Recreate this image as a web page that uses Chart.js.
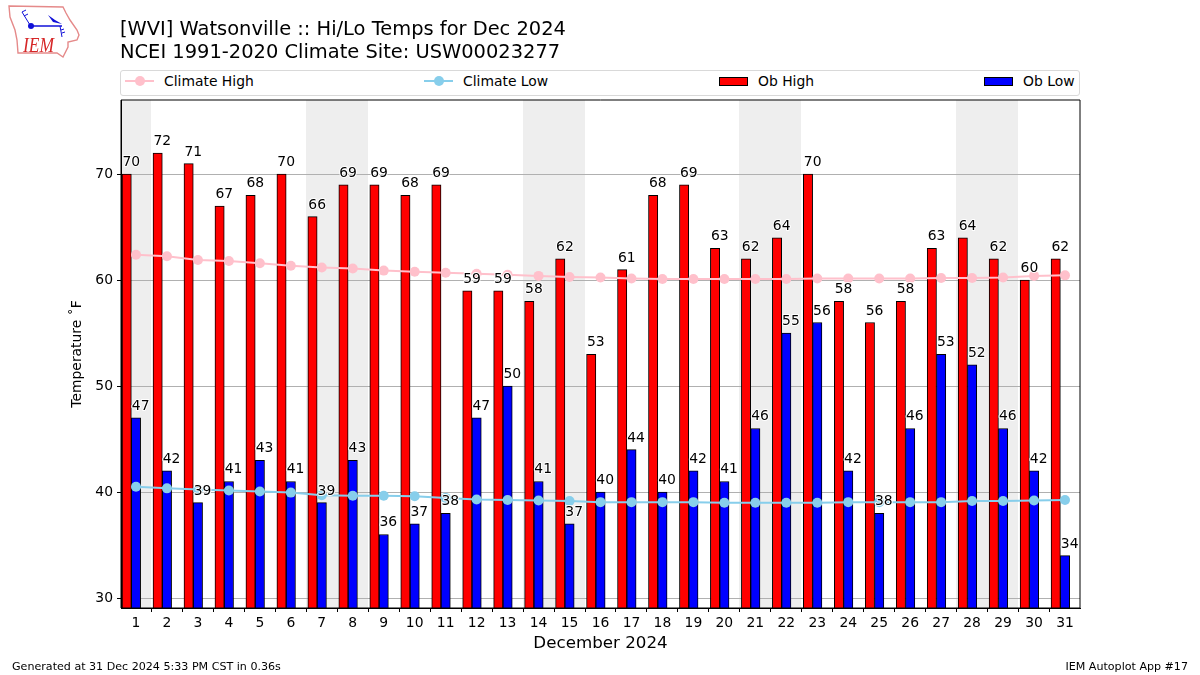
<!DOCTYPE html>
<html>
<head>
<meta charset="utf-8">
<title>Watsonville Hi/Lo Temps</title>
<script src="https://cdn.jsdelivr.net/npm/chart.js@4"></script>
<style>
  html, body { margin: 0; padding: 0; background: #fff; }
  body { width: 1200px; height: 675px; position: relative; overflow: hidden; font-family: "DejaVu Sans", sans-serif; color: #000; }
  #chart-1 { position: absolute; left: 0; top: 0; }
  .txt { position: absolute; white-space: nowrap; }
  #title { left: 120px; top: 18px; font-size: 19.45px; line-height: 22.5px; }
  #legend { position: absolute; left: 120px; top: 70px; width: 958px; height: 24px; border: 1px solid #d9d9d9; border-radius: 3px; background: #fff; }
  .leg-label { position: absolute; top: 2px; font-size: 13.9px; line-height: 17px; white-space: nowrap; }
  .leg-line { position: absolute; top: 9px; width: 29px; height: 2px; }
  .leg-dot { position: absolute; top: 5px; width: 10px; height: 10px; border-radius: 50%; }
  .leg-box { position: absolute; top: 6px; width: 27px; height: 7px; border: 1px solid #000; }
  #logo { position: absolute; left: 0; top: 0; }
</style>
</head>
<body>
<canvas id="chart-1" width="1200" height="675" style="width:1200px;height:675px"></canvas>

<svg id="logo" width="90" height="65" viewBox="0 0 90 65">
  <path d="M9 6 L63 7 L66 13 L70 20 L77 30 L79 35 L77 40 L68 42 L68 47 L63 57 L57 53 L18 53 L17 40 L15 30 L10 17 Z" fill="none" stroke="#e58a8a" stroke-width="1.4"/>
  <path d="M31 26 L62 26" stroke="#1010d8" stroke-width="1.5"/>
  <circle cx="31" cy="26" r="3" fill="#1010d8"/>
  <path d="M48 15 L55 20 L62 24 L53 22 Z" fill="#1010d8"/>
  <path d="M22 12 L30 25 M22 12 L26 10 M24 16 L28 14" stroke="#1010d8" stroke-width="1" fill="none"/>
  <path d="M60 26 L62 37 M62 33 L65 32 M61 30 L64 29" stroke="#1010d8" stroke-width="1" fill="none"/>
  <text x="23" y="52" font-family="Liberation Serif, serif" font-style="italic" font-size="21" fill="#d62728" textLength="31" lengthAdjust="spacingAndGlyphs">IEM</text>
</svg>

<div class="txt" id="title">[WVI] Watsonville :: Hi/Lo Temps for Dec 2024<br>NCEI 1991-2020 Climate Site: USW00023277</div>
<div id="legend"></div>
<div class="txt" style="left:12px;top:660px;font-size:11.1px;line-height:13px">Generated at 31 Dec 2024 5:33 PM CST in 0.36s</div>
<div class="txt" style="right:12px;top:660px;font-size:11.1px;line-height:13px">IEM Autoplot App #17</div>

<script>
const days = [1, 2, 3, 4, 5, 6, 7, 8, 9, 10, 11, 12, 13, 14, 15, 16, 17, 18, 19, 20, 21, 22, 23, 24, 25, 26, 27, 28, 29, 30, 31];
const obHigh = [70, 72, 71, 67, 68, 70, 66, 69, 69, 68, 69, 59, 59, 58, 62, 53, 61, 68, 69, 63, 62, 64, 70, 58, 56, 58, 63, 64, 62, 60, 62];
const obLow = [47, 42, 39, 41, 43, 41, 39, 43, 36, 37, 38, 47, 50, 41, 37, 40, 44, 40, 42, 41, 46, 55, 56, 42, 38, 46, 53, 52, 46, 42, 34];
const climateHigh = [62.4, 62.25, 61.9, 61.8, 61.6, 61.35, 61.2, 61.1, 60.9, 60.8, 60.7, 60.6, 60.5, 60.4, 60.3, 60.25, 60.15, 60.1, 60.1, 60.1, 60.1, 60.1, 60.15, 60.15, 60.15, 60.15, 60.2, 60.2, 60.25, 60.4, 60.45];
const climateLow = [40.5, 40.35, 40.25, 40.15, 40.05, 39.95, 39.7, 39.65, 39.65, 39.6, 39.45, 39.3, 39.25, 39.2, 39.15, 39.05, 39.05, 39.05, 39.05, 39.0, 39.0, 39.0, 39.0, 39.05, 39.05, 39.05, 39.05, 39.15, 39.15, 39.2, 39.25];
const weekendDays = [1, 7, 8, 14, 15, 21, 22, 28, 29];
const yTicks = [30, 40, 50, 60, 70];

const fontFamily = '"DejaVu Sans", sans-serif';

// weekend bands go under the grid
const weekendBands = {
  id: "weekendBands",
  beforeDraw: function (chart) {
    const x = chart.scales.x, area = chart.chartArea, ctx = chart.ctx;
    ctx.save();
    ctx.fillStyle = "#eeeeee";
    weekendDays.forEach(function (d) {
      // whole pixels, so two neighbouring days leave no seam
      const left = Math.floor(Math.max(x.getPixelForValue(d - 0.5), area.left));
      const right = Math.floor(x.getPixelForValue(d + 0.5));
      ctx.fillRect(left, area.top, right - left, area.bottom - area.top);
    });
    ctx.restore();
  },
};

// value labels with a white halo, plus the frame round the axes
const barLabels = {
  id: "barLabels",
  afterDatasetsDraw: function (chart) {
    const x = chart.scales.x, y = chart.scales.y, area = chart.chartArea, ctx = chart.ctx;
    ctx.save();
    ctx.font = "13.9px " + fontFamily;
    ctx.textAlign = "center";
    ctx.textBaseline = "alphabetic";
    ctx.lineJoin = "round";
    function put(value, pos) {
      const px = x.getPixelForValue(pos);
      const py = y.getPixelForValue(value) - 8;
      ctx.strokeStyle = "#ffffff";
      ctx.lineWidth = 2;
      ctx.strokeText(String(value), px, py);
      ctx.fillStyle = "#000000";
      ctx.fillText(String(value), px, py);
    }
    days.forEach(function (d, i) {
      put(obHigh[i], d - 0.15);
      put(obLow[i], d + 0.15);
    });
    ctx.strokeStyle = "#000000";
    ctx.lineWidth = 1;
    ctx.strokeRect(area.left, area.top, area.right - area.left, area.bottom - area.top);
    ctx.restore();
  },
};

const ctx1 = document.getElementById("chart-1").getContext("2d");
const myChart = new Chart(ctx1, {
  type: "bar",
  data: {
    datasets: [
      {
        type: "line",
        label: "Climate High",
        data: days.map(function (d, i) { return { x: d, y: climateHigh[i] }; }),
        borderColor: "#ffc0cb",
        backgroundColor: "#ffc0cb",
        borderWidth: 2,
        pointRadius: 5,
        pointBorderWidth: 0,
        order: 1,
      },
      {
        type: "line",
        label: "Climate Low",
        data: days.map(function (d, i) { return { x: d, y: climateLow[i] }; }),
        borderColor: "#87ceeb",
        backgroundColor: "#87ceeb",
        borderWidth: 2,
        pointRadius: 5,
        pointBorderWidth: 0,
        order: 0,
      },
      {
        label: "Ob High",
        data: days.map(function (d, i) { return { x: d - 0.3, y: obHigh[i] }; }),
        backgroundColor: "#ff0000",
        borderColor: "#000000",
        borderWidth: 1,
        barThickness: 9.3,
        grouped: false,
        order: 3,
      },
      {
        label: "Ob Low",
        data: days.map(function (d, i) { return { x: d, y: obLow[i] }; }),
        backgroundColor: "#0000ff",
        borderColor: "#000000",
        borderWidth: 1,
        barThickness: 9.3,
        grouped: false,
        order: 2,
      },
    ],
  },
  options: {
    responsive: false,
    animation: false,
    devicePixelRatio: 1,
    layout: { padding: { left: 0, right: 120, top: 100, bottom: 0 } },
    plugins: { legend: { display: false }, title: { display: false }, tooltip: { enabled: false } },
    scales: {
      x: {
        type: "linear",
        offset: false,
        min: 0.516,
        max: 31.484,
        afterFit: function (scale) { scale.height = 67; },
        afterBuildTicks: function (scale) { scale.ticks = days.map(function (d) { return { value: d }; }); },
        ticks: { autoSkip: false, maxRotation: 0, padding: 3, color: "#000", font: { family: fontFamily, size: 13.9 }, callback: function (v) { return String(v); } },
        grid: { drawOnChartArea: false, tickLength: 4, tickColor: "#000" },
        border: { color: "#000" },
        title: { display: true, text: "December 2024", color: "#000", font: { family: fontFamily, size: 16.7 }, padding: { top: 0, bottom: 21 } },
      },
      y: {
        min: 29.06,
        max: 77,
        afterFit: function (scale) { scale.width = 121; },
        afterBuildTicks: function (scale) { scale.ticks = yTicks.map(function (v) { return { value: v }; }); },
        ticks: { padding: 4, color: "#000", font: { family: fontFamily, size: 13.9 } },
        grid: { color: "#b0b0b0", lineWidth: 1, tickLength: 4, tickColor: "#000" },
        border: { color: "#000" },
        title: { display: true, text: "Temperature \u02DAF", color: "#000", font: { family: fontFamily, size: 13.9 }, padding: { top: 69, bottom: 0 } },
      },
    },
  },
  plugins: [weekendBands, barLabels],
});

// legend laid out in four wide columns like the original
const legendSlots = [
  { line: 4, text: 43 },
  { line: 303, text: 342 },
  { box: 598, text: 637 },
  { box: 863, text: 902 },
];
const legendEl = document.getElementById("legend");
myChart.data.datasets.forEach(function (ds, i) {
  const slot = legendSlots[i];
  if (slot.line !== undefined) {
    legendEl.insertAdjacentHTML("beforeend",
      '<div class="leg-line" style="left:' + slot.line + 'px;background:' + ds.borderColor + '"></div>' +
      '<div class="leg-dot" style="left:' + (slot.line + 9.5) + 'px;background:' + ds.borderColor + '"></div>');
  } else {
    legendEl.insertAdjacentHTML("beforeend",
      '<div class="leg-box" style="left:' + slot.box + 'px;background:' + ds.backgroundColor + '"></div>');
  }
  legendEl.insertAdjacentHTML("beforeend",
    '<div class="leg-label" style="left:' + slot.text + 'px">' + ds.label + '</div>');
});
</script>
</body>
</html>
